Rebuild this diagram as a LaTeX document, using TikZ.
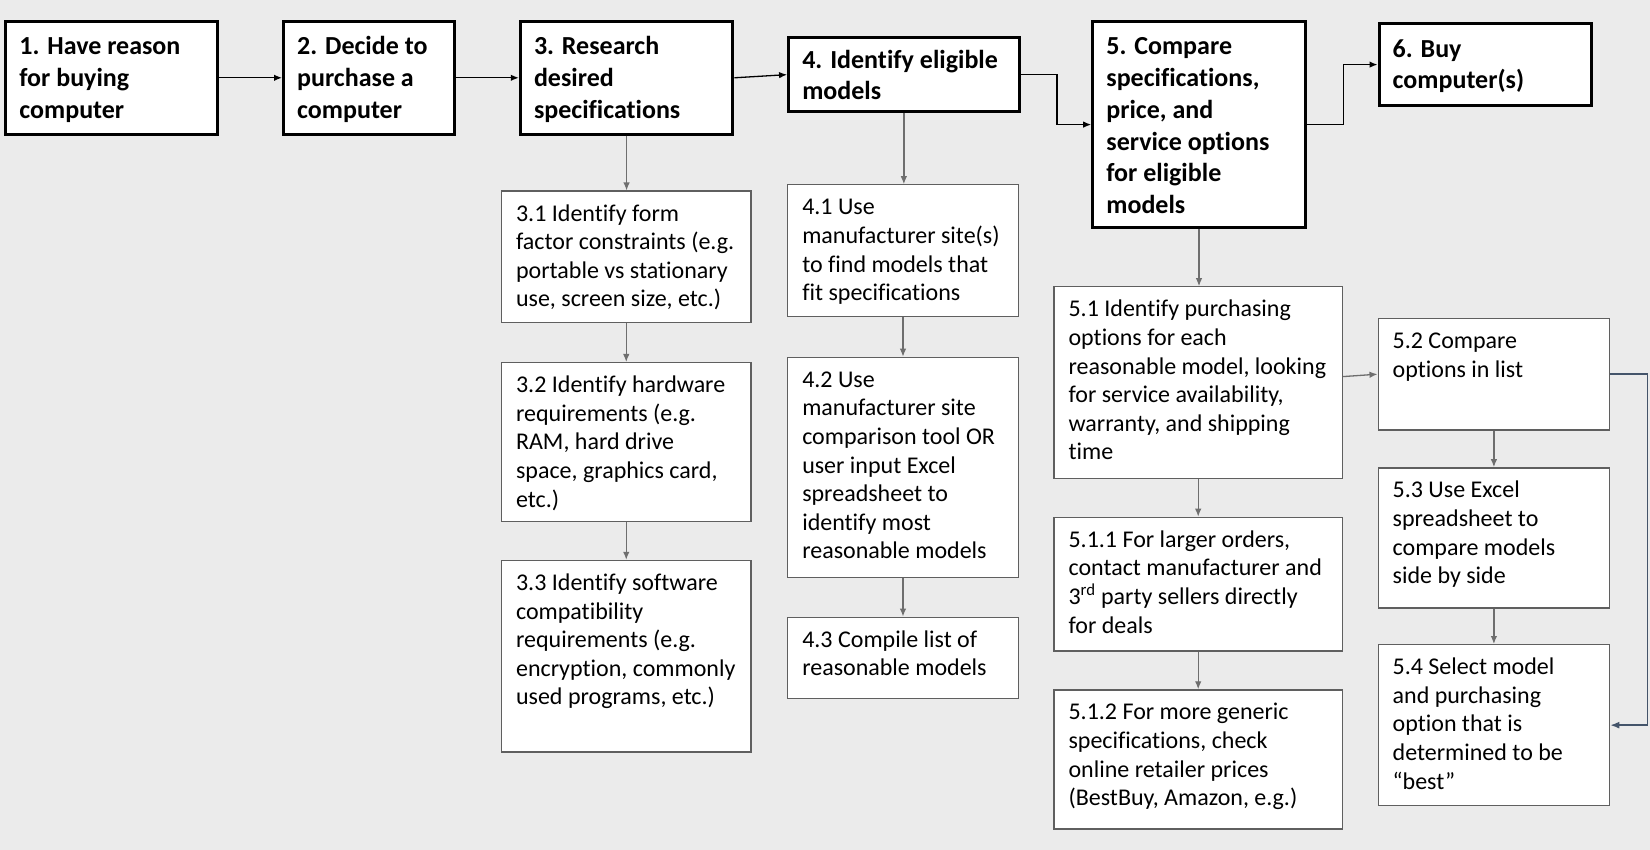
\documentclass[tikz,border=0pt]{standalone}
\usepackage{fontspec}
\setmainfont{Carlito}[Ligatures={NoCommon}]
\usetikzlibrary{arrows.meta}
\definecolor{bgc}{HTML}{EBEBEB}
\definecolor{subline}{HTML}{5F5F5F}
\definecolor{subarrow}{HTML}{6E6E6E}
\definecolor{loopc}{HTML}{44546A}
% main box text: [first baseline]{width}{height}{text}
\newcommand{\mtext}[4][33.5]{\parbox[c][#3pt][t]{#2pt}{\fontsize{26}{31.7}\selectfont\bfseries\raggedright\leftskip=13.7pt\rightskip=-80pt plus 1fil\rule{0pt}{#1pt}#4}}
% sub box text
\newcommand{\stext}[4][30]{\parbox[c][#3pt][t]{#2pt}{\fontsize{24}{28.6}\selectfont\raggedright\leftskip=14.5pt\rightskip=-80pt plus 1fil\rule{0pt}{#1pt}#4}}
\tikzset{
  mainbox/.style={draw=black, line width=3pt, fill=white, inner sep=0pt, anchor=north west},
  subbox/.style={draw=subline, line width=1.3pt, fill=white, inner sep=0pt, anchor=north west},
  marrow/.style={draw=black, line width=1.3pt, -{Latex[length=8pt,width=6.5pt]}},
  sarrow/.style={draw=subarrow, line width=1.3pt, -{Latex[length=8pt,width=6.5pt]}},
  larrow/.style={draw=loopc, line width=1.5pt, -{Latex[length=9pt,width=7pt]}},
}
\begin{document}
\begin{tikzpicture}[x=1pt,y=-1pt]
\fill[bgc] (0,0) rectangle (1650,850);
\useasboundingbox (0,0) rectangle (1650,850);
% main steps
\node[mainbox] (b1) at (4.2,20) {\mtext{211.5}{112.6}{1. Have reason\\ for buying\\ computer}};
\node[mainbox] (b2) at (282,20) {\mtext{170.5}{112.6}{2. Decide to\\ purchase a\\ computer}};
\node[mainbox] (b3) at (518.8,20) {\mtext{212.5}{112.6}{3. Research\\ desired\\ specifications}};
\node[mainbox] (b4) at (787.1,35.8) {\mtext[31]{230.5}{74.7}{4. Identify eligible\\ models}};
\node[mainbox] (b5) at (1091.2,20) {\mtext{212.6}{206.2}{5. Compare\\ specifications,\\ price, and\\ service options\\ for eligible\\ models}};
\node[mainbox] (b6) at (1377.5,22.1) {\mtext{212.5}{82}{6. Buy\\ computer(s)}};
% sub steps of 3
\node[subbox] (s31) at (500.9,190.5) {\stext{249.4}{131.5}{3.1 Identify form\\ factor constraints (e.g.\\ portable vs stationary\\ use, screen size, etc.)}};
\node[subbox] (s32) at (500.9,362) {\stext{249.4}{158.9}{3.2 Identify hardware\\ requirements (e.g.\\ RAM, hard drive\\ space, graphics card,\\ etc.)}};
\node[subbox] (s33) at (500.9,559.8) {\stext{249.4}{191.5}{3.3 Identify software\\ compatibility\\ requirements (e.g.\\ encryption, commonly\\ used programs, etc.)}};
% sub steps of 4
\node[subbox] (s41) at (787.1,184.2) {\stext{230.5}{131.5}{4.1 Use\\ manufacturer site(s)\\ to find models that\\ fit specifications}};
\node[subbox] (s42) at (787.1,356.7) {\stext{230.5}{220}{4.2 Use\\ manufacturer site\\ comparison tool OR\\ user input Excel\\ spreadsheet to\\ identify most\\ reasonable models}};
\node[subbox] (s43) at (787.1,616.6) {\stext{230.5}{81}{4.3 Compile list of\\ reasonable models}};
% sub steps of 5
\node[subbox] (s51) at (1053.4,286.2) {\stext{288.3}{191.5}{5.1 Identify purchasing\\ options for each\\ reasonable model, looking\\ for service availability,\\ warranty, and shipping\\ time}};
\node[subbox] (s511) at (1053.4,516.7) {\stext{288.3}{133.6}{5.1.1 For larger orders,\\ contact manufacturer and\\ 3\textsuperscript{rd} party sellers directly\\ for deals}};
\node[subbox] (s512) at (1053.4,689.3) {\stext{288.3}{138.9}{5.1.2 For more generic\\ specifications, check\\ online retailer prices\\ (BestBuy, Amazon, e.g.)}};
\node[subbox] (s52) at (1377.5,317.8) {\stext{231.5}{111.5}{5.2 Compare\\ options in list}};
\node[subbox] (s53) at (1377.5,467.2) {\stext{231.5}{140}{5.3 Use Excel\\ spreadsheet to\\ compare models\\ side by side}};
\node[subbox] (s54) at (1377.5,644) {\stext{231.5}{161}{5.4 Select model\\ and purchasing\\ option that is\\ determined to be\\ “best”}};
% main connectors
\draw[marrow] (b1.east) -- (b2.west);
\draw[marrow] (b2.east) -- (b3.west);
\draw[marrow] (b3.east) -- (b4.west);
\draw[marrow] (b4.east) -- ++(36.4,0) |- (b5.west);
\draw[marrow] (b5.east) -- ++(37,0) |- (b6.west);
% sub connectors
\draw[sarrow] (b3.south) -- (b3.south |- s31.north);
\draw[sarrow] (s31.south) -- (s31.south |- s32.north);
\draw[sarrow] (s32.south) -- (s32.south |- s33.north);
\draw[sarrow] (b4.south) -- (b4.south |- s41.north);
\draw[sarrow] (s41.south) -- (s41.south |- s42.north);
\draw[sarrow] (s42.south) -- (s42.south |- s43.north);
\draw[sarrow] (b5.south) -- (b5.south |- s51.north);
\draw[sarrow] (s51.south) -- (s51.south |- s511.north);
\draw[sarrow] (s511.south) -- (s511.south |- s512.north);
\draw[sarrow] ([yshift=6pt]s51.east) -- (s52.west);
\draw[sarrow] (s52.south) -- (s52.south |- s53.north);
\draw[sarrow] (s53.south) -- (s53.south |- s54.north);
\draw[larrow] (s52.east) -- ++(37,0) |- (s54.east);
\end{tikzpicture}
\end{document}
